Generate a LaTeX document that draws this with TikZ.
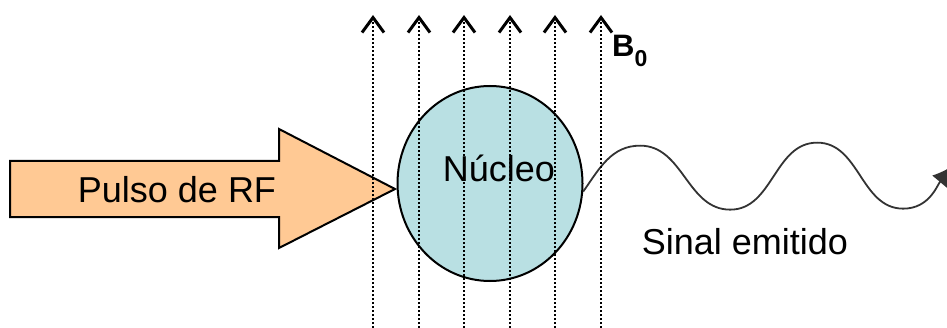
\documentclass[tikz,border=0pt]{standalone}
\usepackage{fontspec}
\setmainfont{Liberation Sans}
\usetikzlibrary{shapes.geometric,arrows.meta}
\definecolor{pessego}{RGB}{255,201,148}
\definecolor{ciano}{RGB}{185,224,227}
\begin{document}
\begin{tikzpicture}[x=1pt, y=1pt, every node/.style={inner sep=0pt, font=\fontsize{36}{40}\selectfont}]
	\tikzstyle{campo}=[line width=2.6pt, dash pattern=on 2.2pt off 1.8pt, -{Straight Barb[length=15pt,width=22pt,line width=3pt]}]
	\tikzstyle{onda}=[line width=1.8pt, draw=black!80, -{Latex[length=22pt,width=20pt]}]
	\useasboundingbox (0,0) rectangle (947,327);
	\clip (0,0) rectangle (947,327);
	\draw[line width=2pt, fill=pessego] (10,166) -- (279,166) -- (279,198) -- (395,138) -- (279,79) -- (279,110) -- (10,110) -- cycle;
	\node[anchor=base] (rf) at (177,125) {Pulso de RF};
	\node[ellipse, draw, line width=2pt, fill=ciano, minimum width=185pt, minimum height=195pt] (n1) at (490,143.5) {};
	\node[anchor=base] (n2) at ([shift={(9,2.5)}]n1.center) {Núcleo};
	\node[anchor=base] (s1) at (745,73) {Sinal emitido};
	\node[anchor=base west, font=\fontsize{31}{34}\selectfont\bfseries] (b0) at (612,270) {B\raisebox{-10pt}{\fontsize{23}{23}\selectfont 0}};
	\coordinate (w1) at (954,162);
	\draw[onda] (n1.-5) to[out=55,in=180] ++(57,46) to[out=0,in=180] ++(90,-64)
		to[out=0,in=180] ++(87,67) to[out=0,in=180] ++(86,-66) to[out=0,in=230] (w1);
	\foreach \x [count=\i] in {373,419,464,510,555,601} {
		\coordinate (p\i) at (\x,-5);
		\coordinate (q\i) at (\x,312);
		\draw[campo] (p\i) -- (q\i);
	}
\end{tikzpicture}
\end{document}
